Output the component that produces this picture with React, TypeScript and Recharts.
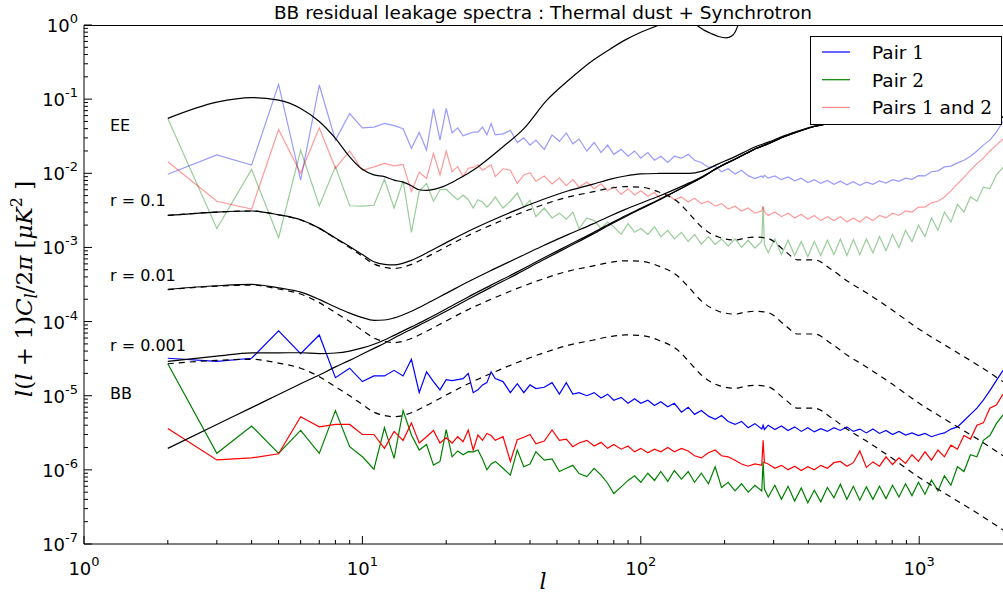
import React from 'react'
import { Legend, Line, LineChart, XAxis, YAxis } from 'recharts'

// multipoles of the measured residual spectra
const ells = [
  2, 3, 4, 5, 6, 7, 8, 9, 10, 11, 12, 13, 14, 15, 16, 17, 18, 19, 20, 21,
  22, 23, 24, 25, 26, 27, 28, 29, 30,
  32, 34, 36, 38, 40, 42, 45, 48, 51, 54, 57, 60,
  64, 68, 72, 76, 80, 85, 90, 95, 100,
  106, 112, 118, 125, 132, 140, 148, 156, 165,
  175, 185, 195, 206, 218, 230, 243, 257, 272, 275, 278,
  287, 303, 320, 338, 357, 377, 398, 420, 443, 468,
  494, 521, 550, 580, 612, 646, 682, 720, 760, 802,
  846, 893, 942, 994, 1049, 1107, 1168, 1232, 1300, 1372,
  1448, 1528, 1612, 1700, 1794, 1893, 2000,
]

const pair1BB = [
  3.2e-5, 2.9e-5, 3.2e-5, 7.5e-5, 3.7e-5, 6.6e-5, 1.75e-5, 2.35e-5, 1.55e-5, 1.85e-5, 1.85e-5, 2.2e-5, 1.85e-5, 3.1e-5, 1.1e-5, 2.1e-5, 1.55e-5, 1.2e-5, 1.65e-5, 1.6e-5,
  1.65e-5, 1.7e-5, 2.0e-5, 1.1e-5, 1.2e-5, 1.4e-5, 1.5e-5, 2.1e-5, 1.7e-5,
  1.55e-5, 1.1e-5, 1.45e-5, 1.1e-5, 1.4e-5, 1.25e-5, 1.3e-5, 1.5e-5, 1.05e-5, 1.5e-5, 1.05e-5, 1.1e-5,
  1.0e-5, 1.1e-5, 9.3e-6, 1.05e-5, 8.7e-6, 9.5e-6, 7.9e-6, 9.1e-6, 7.9e-6,
  8.7e-6, 7.4e-6, 8.3e-6, 7.1e-6, 7.9e-6, 6.0e-6, 7.0e-6, 5.6e-6, 6.3e-6,
  5.3e-6, 4.8e-6, 5.4e-6, 4.5e-6, 4.1e-6, 4.5e-6, 3.7e-6, 4.2e-6, 3.55e-6, 4.0e-6, 3.5e-6,
  4.0e-6, 3.5e-6, 3.9e-6, 3.4e-6, 3.8e-6, 3.3e-6, 3.7e-6, 3.25e-6, 3.6e-6, 3.3e-6,
  3.7e-6, 3.4e-6, 3.8e-6, 3.3e-6, 3.55e-6, 3.15e-6, 3.55e-6, 3.1e-6, 3.4e-6, 3.0e-6,
  3.3e-6, 2.95e-6, 3.15e-6, 2.9e-6, 3.1e-6, 2.8e-6, 3.0e-6, 3.15e-6, 3.55e-6, 3.8e-6,
  4.6e-6, 5.6e-6, 6.8e-6, 8.7e-6, 1.17e-5, 1.6e-5, 2.2e-5,
]

const pair2BB = [
  2.7e-5, 1.67e-6, 3.9e-6, 1.67e-6, 3.4e-6, 1.67e-6, 6.3e-6, 2.05e-6, 1.5e-6, 1.02e-6, 3.7e-6, 1.43e-6, 6.3e-6, 2.95e-6, 1.85e-6, 2.2e-6, 1.16e-6, 1.3e-6, 3.5e-6, 1.5e-6,
  1.8e-6, 1.6e-6, 1.76e-6, 1.75e-6, 1.85e-6, 1.4e-6, 1.0e-6, 1.2e-6, 1.3e-6,
  1.05e-6, 8.5e-7, 1.85e-6, 1.1e-6, 1.2e-6, 1.75e-6, 1.35e-6, 1.4e-6, 9.5e-7, 1.05e-6, 1.15e-6, 8.9e-7,
  8.1e-7, 1.05e-6, 8.5e-7, 6.6e-7, 4.8e-7, 5.9e-7, 7.2e-7, 8.3e-7, 6.8e-7,
  9.0e-7, 7.2e-7, 9.5e-7, 7.0e-7, 9.8e-7, 7.5e-7, 9.5e-7, 6.8e-7, 9.0e-7,
  6.5e-7, 1.1e-6, 5.8e-7, 6.8e-7, 5.2e-7, 6.5e-7, 5.0e-7, 6.2e-7, 5.2e-7, 1.3e-6, 5.5e-7,
  4.3e-7, 6.2e-7, 4.0e-7, 6.0e-7, 3.8e-7, 5.7e-7, 3.6e-7, 5.3e-7, 3.7e-7, 5.8e-7,
  4.2e-7, 6.4e-7, 4.0e-7, 6.0e-7, 3.9e-7, 5.9e-7, 4.0e-7, 6.0e-7, 4.1e-7, 6.2e-7,
  4.3e-7, 6.5e-7, 4.5e-7, 6.8e-7, 4.7e-7, 7.3e-7, 5.2e-7, 8.3e-7, 6.2e-7, 1.1e-6,
  9.5e-7, 1.6e-6, 1.5e-6, 2.5e-6, 2.9e-6, 4.2e-6, 5.5e-6,
]

const pairsBB = [
  3.6e-6, 1.36e-6, 1.45e-6, 1.65e-6, 5.2e-6, 3.8e-6, 4.1e-6, 4.1e-6, 3.0e-6, 3.0e-6, 1.95e-6, 3.3e-6, 2.5e-6, 4.3e-6, 2.3e-6, 2.8e-6, 3.4e-6, 2.3e-6, 2.7e-6, 2.3e-6,
  2.8e-6, 2.4e-6, 3.45e-6, 1.85e-6, 2.95e-6, 2.5e-6, 3.1e-6, 2.9e-6, 2.5e-6,
  2.8e-6, 1.3e-6, 2.55e-6, 2.75e-6, 3.0e-6, 2.25e-6, 2.45e-6, 3.45e-6, 2.5e-6, 2.6e-6, 2.05e-6, 2.3e-6,
  2.5e-6, 2.1e-6, 2.35e-6, 1.95e-6, 2.2e-6, 1.9e-6, 2.1e-6, 1.75e-6, 1.95e-6,
  1.7e-6, 1.9e-6, 1.75e-6, 2.0e-6, 1.75e-6, 1.95e-6, 1.8e-6, 1.55e-6, 1.45e-6,
  1.7e-6, 1.85e-6, 1.55e-6, 1.5e-6, 1.35e-6, 1.2e-6, 1.12e-6, 1.2e-6, 1.15e-6, 2.5e-6, 1.25e-6,
  1.2e-6, 1.05e-6, 1.15e-6, 1.0e-6, 1.12e-6, 0.98e-6, 1.1e-6, 1.0e-6, 1.15e-6, 1.05e-6,
  1.25e-6, 1.3e-6, 1.12e-6, 1.25e-6, 1.8e-6, 1.08e-6, 1.28e-6, 1.12e-6, 1.5e-6, 1.18e-6,
  1.45e-6, 1.22e-6, 1.6e-6, 1.3e-6, 1.75e-6, 1.35e-6, 1.85e-6, 1.5e-6, 2.15e-6, 1.9e-6,
  2.9e-6, 2.6e-6, 4.0e-6, 4.3e-6, 6.8e-6, 7.5e-6, 1.05e-5,
]

const pair1EE = [
  9.7e-3, 0.0177, 0.0129, 0.158, 8.1e-3, 0.155, 0.028, 0.064, 0.041, 0.042, 0.047, 0.044, 0.04, 0.0217, 0.0355, 0.0206, 0.074, 0.028, 0.075, 0.035,
  0.041, 0.032, 0.034, 0.036, 0.036, 0.042, 0.033, 0.047, 0.033,
  0.034, 0.038, 0.026, 0.03, 0.024, 0.028, 0.021, 0.033, 0.027, 0.035, 0.025, 0.029,
  0.02, 0.026, 0.019, 0.024, 0.018, 0.021, 0.017, 0.02, 0.016,
  0.019, 0.015, 0.017, 0.014, 0.017, 0.016, 0.018, 0.015, 0.014,
  0.012, 0.0125, 0.0105, 0.0115, 0.0098, 0.011, 0.0093, 0.0085, 0.0092, 0.0088, 0.0094,
  0.0086, 0.0092, 0.0082, 0.0089, 0.0079, 0.0086, 0.0075, 0.0082, 0.0073, 0.008,
  0.0071, 0.0078, 0.007, 0.0077, 0.0069, 0.0076, 0.0071, 0.0079, 0.0074, 0.0082,
  0.0078, 0.0086, 0.0083, 0.0093, 0.0092, 0.0105, 0.0108, 0.0122, 0.0125, 0.0138,
  0.015, 0.017, 0.02, 0.024, 0.028, 0.036, 0.05,
]

const pair2EE = [
  0.055, 1.8e-3, 0.0113, 1.35e-3, 0.0206, 3.65e-3, 0.0123, 3.65e-3, 3.6e-3, 3.7e-3, 8.3e-3, 3.4e-3, 7.9e-3, 1.6e-3, 5.7e-3, 7.3e-3, 4.2e-3, 6.0e-3, 6.1e-3, 5.1e-3,
  4.4e-3, 5.1e-3, 4.4e-3, 3.4e-3, 4.4e-3, 4.1e-3, 3.5e-3, 4.0e-3, 4.8e-3,
  0.0034, 0.0042, 0.0054, 0.0035, 0.0043, 0.0026, 0.0034, 0.0025, 0.0029, 0.0024, 0.003, 0.0018,
  0.0025, 0.0023, 0.0018, 0.0022, 0.0019, 0.0015, 0.0021, 0.0016, 0.0018,
  0.0015, 0.0019, 0.0014, 0.0017, 0.0013, 0.0016, 0.0012, 0.0015, 0.0011,
  0.0014, 0.0011, 0.0013, 0.00105, 0.0013, 0.001, 0.00125, 0.00098, 0.0012, 0.0035, 0.0011,
  0.00085, 0.0013, 0.0008, 0.00125, 0.00078, 0.0012, 0.00075, 0.0012, 0.00078, 0.00125,
  0.0008, 0.0013, 0.00078, 0.00128, 0.0008, 0.0013, 0.00085, 0.0014, 0.0009, 0.0015,
  0.001, 0.0017, 0.0012, 0.002, 0.0014, 0.0025, 0.0017, 0.003, 0.0022, 0.0038,
  0.003, 0.0048, 0.0042, 0.0065, 0.0062, 0.0095, 0.012,
]

const pairsEE = [
  0.0143, 4.2e-3, 3.3e-3, 0.039, 0.01, 0.041, 0.0117, 0.02, 0.011, 0.0122, 0.0136, 0.0126, 0.0132, 5.7e-3, 0.0103, 8.5e-3, 0.0186, 9.5e-3, 0.02, 0.0105,
  0.0123, 0.009, 0.0117, 0.012, 0.013, 0.011, 0.012, 0.013, 0.009,
  0.0115, 0.011, 0.0073, 0.0095, 0.0102, 0.0078, 0.0092, 0.0072, 0.0087, 0.0068, 0.0082, 0.0065,
  0.0076, 0.0062, 0.0072, 0.0058, 0.0066, 0.0052, 0.0062, 0.0051, 0.0058,
  0.0049, 0.0055, 0.0045, 0.0052, 0.0044, 0.0048, 0.0041, 0.0046, 0.0039,
  0.0042, 0.0036, 0.0039, 0.0033, 0.0036, 0.0031, 0.0034, 0.0029, 0.0031, 0.0036, 0.003,
  0.0027, 0.003, 0.0026, 0.0029, 0.0025, 0.0028, 0.0024, 0.0027, 0.0023, 0.0026,
  0.0023, 0.0026, 0.0022, 0.0025, 0.0022, 0.0026, 0.0023, 0.0027, 0.0025, 0.0029,
  0.0027, 0.0031, 0.003, 0.0035, 0.0035, 0.004, 0.0042, 0.0048, 0.0058, 0.0072,
  0.0088, 0.011, 0.0135, 0.016, 0.02, 0.024, 0.029,
]

// theory curves
const thL = [
  2, 3, 4, 5, 6, 7, 8, 9, 10, 11, 12, 13, 15, 17, 20, 24, 29, 36, 44, 55,
  67, 78, 88, 100, 116, 137, 150, 165, 190, 218, 240, 258, 287, 330, 366, 420, 485, 550, 640, 790,
  1000, 1300, 1620, 2000,
]

const lensing = [
  1.95e-6, 4.1e-6, 6.9e-6, 1.04e-5, 1.45e-5, 1.9e-5, 2.45e-5, 3.0e-5, 3.65e-5, 4.35e-5, 5.1e-5, 6.0e-5, 7.9e-5, 1.0e-4, 1.38e-4, 2.0e-4, 2.9e-4, 4.4e-4, 6.6e-4, 1.02e-3,
  1.5e-3, 2.05e-3, 2.6e-3, 3.3e-3, 4.35e-3, 6.0e-3, 7.2e-3, 8.7e-3, 0.012, 0.0155, 0.0186, 0.0214, 0.025, 0.0316, 0.0363, 0.0427, 0.0479, 0.0519, 0.055, 0.0582,
  0.0596, 0.0596, 0.0589, 0.0569,
]

const tensorR01 = [
  2.7e-3, 3.0e-3, 3.1e-3, 2.75e-3, 2.35e-3, 1.8e-3, 1.32e-3, 1.0e-3, 7.6e-4, 6.0e-4, 5.4e-4, 5.2e-4, 5.9e-4, 7.4e-4, 1.02e-3, 1.45e-3, 2.0e-3, 2.8e-3, 3.7e-3, 4.8e-3,
  5.6e-3, 6.3e-3, 6.6e-3, 6.5e-3, 5.6e-3, 4.0e-3, 2.8e-3, 1.9e-3, 1.38e-3, 1.26e-3, 1.35e-3, 1.38e-3, 1.32e-3, 8.9e-4, 6.8e-4, 6.8e-4, 5.0e-4, 3.55e-4, 2.5e-4, 1.48e-4,
  7.9e-5, 4.3e-5, 2.6e-5, 1.55e-5,
]

const tensorR001 = [
  2.7e-4, 3.0e-4, 3.1e-4, 2.75e-4, 2.35e-4, 1.8e-4, 1.32e-4, 1.0e-4, 7.6e-5, 6.0e-5, 5.4e-5, 5.2e-5, 5.9e-5, 7.4e-5, 1.02e-4, 1.45e-4, 2.0e-4, 2.8e-4, 3.7e-4, 4.8e-4,
  5.6e-4, 6.3e-4, 6.6e-4, 6.5e-4, 5.6e-4, 4.0e-4, 2.8e-4, 1.9e-4, 1.38e-4, 1.26e-4, 1.35e-4, 1.38e-4, 1.32e-4, 8.9e-5, 6.8e-5, 6.8e-5, 5.0e-5, 3.55e-5, 2.5e-5, 1.48e-5,
  7.9e-6, 4.3e-6, 2.6e-6, 1.55e-6,
]

const tensorR0001 = [
  2.7e-5, 3.0e-5, 3.1e-5, 2.75e-5, 2.35e-5, 1.8e-5, 1.32e-5, 1.0e-5, 7.6e-6, 6.0e-6, 5.4e-6, 5.2e-6, 5.9e-6, 7.4e-6, 1.02e-5, 1.45e-5, 2.0e-5, 2.8e-5, 3.7e-5, 4.8e-5,
  5.6e-5, 6.3e-5, 6.6e-5, 6.5e-5, 5.6e-5, 4.0e-5, 2.8e-5, 1.9e-5, 1.38e-5, 1.26e-5, 1.35e-5, 1.38e-5, 1.32e-5, 8.9e-6, 6.8e-6, 6.8e-6, 5.0e-6, 3.55e-6, 2.5e-6, 1.48e-6,
  7.9e-7, 4.3e-7, 2.6e-7, 1.55e-7,
]

const totalR01 = [
  2.7e-3, 3.0e-3, 3.1e-3, 2.76e-3, 2.36e-3, 1.82e-3, 1.34e-3, 1.03e-3, 8.0e-4, 6.4e-4, 5.9e-4, 5.8e-4, 6.7e-4, 8.4e-4, 1.16e-3, 1.65e-3, 2.29e-3, 3.24e-3, 4.36e-3, 5.82e-3,
  7.1e-3, 8.35e-3, 9.2e-3, 9.8e-3, 9.95e-3, 0.01, 0.01, 0.0106, 0.0134, 0.0168, 0.02, 0.0228, 0.0263, 0.0325, 0.037, 0.0434, 0.0484, 0.0523, 0.0553, 0.0583,
  0.0597, 0.0596, 0.0589, 0.0569,
]

const totalR001 = [
  2.72e-4, 3.04e-4, 3.17e-4, 2.85e-4, 2.5e-4, 1.99e-4, 1.57e-4, 1.3e-4, 1.13e-4, 1.04e-4, 1.05e-4, 1.12e-4, 1.38e-4, 1.74e-4, 2.4e-4, 3.45e-4, 4.9e-4, 7.2e-4, 1.03e-3, 1.5e-3,
  2.06e-3, 2.68e-3, 3.26e-3, 3.95e-3, 4.91e-3, 6.4e-3, 7.48e-3, 8.89e-3, 0.0121, 0.0156, 0.0187, 0.0215, 0.0251, 0.0317, 0.0364, 0.0428, 0.0479, 0.0519, 0.055, 0.0582,
  0.0596, 0.0596, 0.0589, 0.0569,
]

const totalR0001 = [
  2.9e-5, 3.41e-5, 3.79e-5, 3.79e-5, 3.8e-5, 3.7e-5, 3.77e-5, 4.0e-5, 4.41e-5, 4.95e-5, 5.64e-5, 6.52e-5, 8.49e-5, 1.07e-4, 1.48e-4, 2.15e-4, 3.1e-4, 4.68e-4, 6.97e-4, 1.07e-3,
  1.56e-3, 2.11e-3, 2.67e-3, 3.37e-3, 4.4e-3, 6.04e-3, 7.23e-3, 8.72e-3, 0.012, 0.0155, 0.0186, 0.0214, 0.025, 0.0316, 0.0363, 0.0427, 0.0479, 0.0519, 0.055, 0.0582,
  0.0596, 0.0596, 0.0589, 0.0569,
]

const eeL = [
  2, 3, 4, 5, 6, 7, 8, 9, 10, 11, 12, 13, 14, 15, 16, 17, 19, 22, 26, 32,
  38, 46, 55, 67, 78, 88, 100, 116, 125, 135, 145, 157, 170, 180, 190, 203, 212, 218, 225, 240,
  270, 300, 400, 600, 1000, 1500, 2000,
]

const eeTheory = [
  0.055, 0.091, 0.105, 0.097, 0.075, 0.05, 0.0296, 0.0167, 0.0113, 0.0095, 0.009, 0.0081, 0.0076, 0.0068, 0.006, 0.0059, 0.0064, 0.0083, 0.0122, 0.0228,
  0.04, 0.097, 0.18, 0.33, 0.48, 0.63, 0.8, 1.0, 1.15, 1.25, 1.2, 1.02, 0.84, 0.76, 0.7, 0.67, 0.71, 0.8, 1.05, 1.5,
  2.5, 3.5, 10, 25, 40, 30, 20,
]

const sideLabels = [
  { text: 'EE', y: 131 },
  { text: 'r = 0.1', y: 206 },
  { text: 'r = 0.01', y: 281 },
  { text: 'r = 0.001', y: 351 },
  { text: 'BB', y: 399 },
]

const xDecades = [0, 1, 2]
const yDecades = [-7, -6, -5, -4, -3, -2, -1]

const xTicks = [...xDecades.flatMap((d) => [1, 2, 3, 4, 5, 6, 7, 8, 9].map((m) => Number((m * 10 ** d).toPrecision(3)))), 1000]
const yTicks = [...yDecades.flatMap((d) => [1, 2, 3, 4, 5, 6, 7, 8, 9].map((m) => Number((m * 10 ** d).toPrecision(3)))), 1]

const rows = ells.map((l, i) => ({
  l,
  p1bb: pair1BB[i],
  p2bb: pair2BB[i],
  pbb: pairsBB[i],
  p1ee: pair1EE[i],
  p2ee: pair2EE[i],
  pee: pairsEE[i],
}))

const theoryRows = thL.map((l, i) => ({
  l,
  lens: lensing[i],
  t01: tensorR01[i],
  t001: tensorR001[i],
  t0001: tensorR0001[i],
  s01: totalR01[i],
  s001: totalR001[i],
  s0001: totalR0001[i],
}))

const eeRows = eeL.map((l, i) => ({ l, ee: eeTheory[i] }))

const FONT = 'DejaVu Sans'
const W = 1003
const H = 597
const PLOT_TOP = 25
const PLOT_LEFT = 84
const decadeOf = (v: number) => Math.round(Math.log10(v))
const isDecade = (v: number) => Math.abs(Math.log10(v) - decadeOf(v)) < 1e-9

const BottomTick = (props: any) => {
  const { x, y, payload } = props
  const major = isDecade(payload.value)
  return (
    <g>
      <line x1={x} x2={x} y1={y} y2={y - (major ? 8 : 4)} stroke="#000" />
      {major && (
        <text x={x} y={y + 31} textAnchor="middle" fontFamily={FONT} fontSize={18} fill="#000">
          10<tspan dy={-9} fontSize={13}>{decadeOf(payload.value)}</tspan>
        </text>
      )}
    </g>
  )
}

const TopTick = (props: any) => {
  const { x, y, payload } = props
  const major = isDecade(payload.value)
  return <line x1={x} x2={x} y1={y} y2={y + (major ? 8 : 4)} stroke="#000" />
}

const LeftTick = (props: any) => {
  const { x, y, payload } = props
  const major = isDecade(payload.value)
  return (
    <g>
      <line x1={x} x2={x + (major ? 8 : 4)} y1={y} y2={y} stroke="#000" />
      {major && (
        <text x={x - 6} y={y + 7} textAnchor="end" fontFamily={FONT} fontSize={18} fill="#000">
          10<tspan dy={-9} fontSize={13}>{decadeOf(payload.value)}</tspan>
        </text>
      )}
    </g>
  )
}

const legendItems = [
  { label: 'Pair ', nums: ['1'], color: '#0000ff', opacity: 1 },
  { label: 'Pair ', nums: ['2'], color: '#008000', opacity: 1 },
  { label: 'Pairs ', nums: ['1', ' and ', '2'], color: '#ff0000', opacity: 0.45 },
]

const LegendBox = () => (
  <svg width={193} height={90}>
    <rect x={0.5} y={0.5} width={191} height={88} fill="#fff" stroke="#000" />
    {legendItems.map((it, i) => {
      const cy = 16 + i * 27.7
      return (
        <g key={i}>
          <line x1={12} x2={40} y1={cy} y2={cy} stroke={it.color} strokeOpacity={it.opacity} strokeWidth={1.2} />
          <text x={62} y={cy + 7} fontFamily={FONT} fontSize={18.5} fill="#000">
            {it.label}
            {it.nums.map((n, j) => (
              <tspan key={j} fontFamily={n.trim() === n ? 'DejaVu Serif' : FONT}>{n}</tspan>
            ))}
          </text>
        </g>
      )
    })}
  </svg>
)

const lineProps = { dot: false, activeDot: false, isAnimationActive: false, strokeWidth: 1.2 } as const

export default function App() {
  return (
    <div style={{ position: 'absolute', left: 0, top: 0, width: W, height: H, background: '#fff' }}>
      <LineChart width={W} height={H} margin={{ top: PLOT_TOP, right: 0, bottom: 0, left: 0 }}>
        <XAxis
          xAxisId="top"
          orientation="top"
          type="number"
          dataKey="l"
          scale="log"
          domain={[1, 2000]}
          allowDataOverflow
          ticks={xTicks}
          interval={0}
          height={0}
          tickSize={0}
          tickMargin={0}
          tickLine={false}
          tick={<TopTick />}
          axisLine={{ stroke: '#000' }}
        />
        <XAxis
          type="number"
          dataKey="l"
          scale="log"
          domain={[1, 2000]}
          allowDataOverflow
          ticks={xTicks}
          interval={0}
          height={53}
          tickSize={0}
          tickMargin={0}
          tickLine={false}
          tick={<BottomTick />}
          axisLine={{ stroke: '#000' }}
        />
        <YAxis
          type="number"
          scale="log"
          domain={[1e-7, 1]}
          allowDataOverflow
          ticks={yTicks}
          interval={0}
          width={PLOT_LEFT}
          tickSize={0}
          tickMargin={0}
          tickLine={false}
          tick={<LeftTick />}
          axisLine={{ stroke: '#000' }}
        />
        <Legend
          layout="vertical"
          align="center"
          verticalAlign="middle"
          content={<LegendBox />}
          wrapperStyle={{ left: 810, top: 36, width: 193, height: 90 }}
        />

        <Line data={rows} dataKey="p1ee" stroke="#0000ff" strokeOpacity={0.4} {...lineProps} />
        <Line data={rows} dataKey="p2ee" stroke="#008000" strokeOpacity={0.4} {...lineProps} />
        <Line data={rows} dataKey="pee" stroke="#ff0000" strokeOpacity={0.4} {...lineProps} />
        <Line data={rows} dataKey="p1bb" stroke="#0000ff" {...lineProps} />
        <Line data={rows} dataKey="p2bb" stroke="#008000" {...lineProps} />
        <Line data={rows} dataKey="pbb" stroke="#ff0000" {...lineProps} />

        <Line data={eeRows} dataKey="ee" type="monotone" stroke="#000" {...lineProps} />
        <Line data={theoryRows} dataKey="lens" type="monotone" stroke="#000" {...lineProps} />
        <Line data={theoryRows} dataKey="s01" type="monotone" stroke="#000" {...lineProps} />
        <Line data={theoryRows} dataKey="s001" type="monotone" stroke="#000" {...lineProps} />
        <Line data={theoryRows} dataKey="s0001" type="monotone" stroke="#000" {...lineProps} />
        <Line data={theoryRows} dataKey="t01" type="monotone" stroke="#000" strokeDasharray="6 5" {...lineProps} />
        <Line data={theoryRows} dataKey="t001" type="monotone" stroke="#000" strokeDasharray="6 5" {...lineProps} />
        <Line data={theoryRows} dataKey="t0001" type="monotone" stroke="#000" strokeDasharray="6 5" {...lineProps} />
      </LineChart>

      <svg width={W} height={H} style={{ position: 'absolute', left: 0, top: 0, pointerEvents: 'none' }}>
        {/* top spine of the axes frame */}
        <line x1={PLOT_LEFT} x2={W} y1={PLOT_TOP + 0.5} y2={PLOT_TOP + 0.5} stroke="#000" />
        <text x={543} y={19} textAnchor="middle" fontFamily={FONT} fontSize={18.5} fill="#000">
          BB residual leakage spectra : Thermal dust + Synchrotron
        </text>
        {sideLabels.map((s) => (
          <text key={s.text} x={110} y={s.y} fontFamily={FONT} fontSize={16} fill="#000">
            {s.text}
          </text>
        ))}
        <text x={543} y={589} textAnchor="middle" fontFamily="DejaVu Serif" fontStyle="italic" fontSize={22} fill="#000">
          l
        </text>
        <text
          transform="translate(32 289) rotate(-90)"
          textAnchor="middle"
          fontFamily="DejaVu Serif"
          fontSize={23}
          fill="#000"
        >
          <tspan fontStyle="italic">l</tspan>(<tspan fontStyle="italic">l</tspan> + 1)<tspan fontStyle="italic">C</tspan>
          <tspan fontStyle="italic" fontSize={16} dy={5}>l</tspan>
          <tspan dy={-5}>/2</tspan><tspan fontStyle="italic">π</tspan> [<tspan fontStyle="italic">μK</tspan>
          <tspan fontSize={16} dy={-10}>2</tspan>
          <tspan dy={10}> ]</tspan>
        </text>
      </svg>
    </div>
  )
}
